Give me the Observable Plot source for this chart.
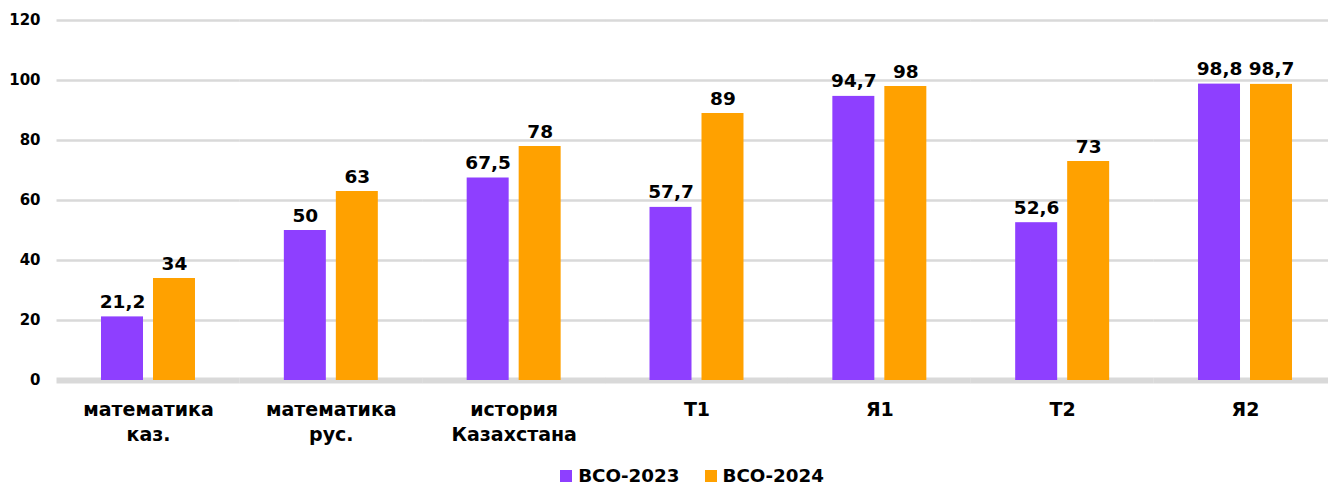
<!DOCTYPE html>
<html><head><meta charset="utf-8">
<script src="https://cdn.jsdelivr.net/npm/d3@7"></script>
<script src="https://cdn.jsdelivr.net/npm/@observablehq/plot@0.6"></script>
<style>
html,body{margin:0;background:#fff;font-family:"DejaVu Sans",Verdana,sans-serif;overflow:hidden;}
#legend{display:flex;justify-content:center;align-items:center;gap:25px;padding-left:56px;padding-top:6px;height:28px;font-weight:bold;font-size:18.3px;color:#000;}
#legend span.sw{display:inline-block;width:12px;height:12px;margin-right:6px;vertical-align:0px;}
</style></head><body>
<div id="chart"></div>
<div id="legend"></div>
<script>
const categories = ["математика\nказ.", "математика\nрус.", "история\nКазахстана", "Т1", "Я1", "Т2", "Я2"];
const series = ["ВСО-2023", "ВСО-2024"];
const values2023 = [21.2, 50, 67.5, 57.7, 94.7, 52.6, 98.8];
const values2024 = [34, 63, 78, 89, 98, 73, 98.7];
const colors = ["#8E3FFF", "#FFA100"];
const yTicks = [0, 20, 40, 60, 80, 100, 120];

const data = [];
categories.forEach((c, i) => {
  data.push({cat: c, s: series[0], v: values2023[i]});
  data.push({cat: c, s: series[1], v: values2024[i]});
});
const fmt = v => String(v).replace(".", ",");

const chart = Plot.plot({
  width: 1328, height: 455,
  marginLeft: 57, marginRight: -8, marginTop: 20, marginBottom: 75,
  style: {fontFamily: "'DejaVu Sans', Verdana, sans-serif", color: "#000", background: "#fff", fontSize: "14px"},
  fx: {domain: categories, paddingInner: 0.486, paddingOuter: 0.2407, round: false, label: null, axis: null},
  x: {domain: series, paddingInner: 0.1923, paddingOuter: 0, round: false, axis: null},
  y: {domain: [0, 120], label: null, axis: null},
  color: {domain: series, range: colors},
  marks: [
    Plot.ruleY(yTicks.filter(d => d > 0), {stroke: "#d9d9d9", strokeWidth: 2.5, insetLeft: -44.5, insetRight: -44.5}),
    Plot.ruleY([0], {stroke: "#d9d9d9", strokeWidth: 6, insetLeft: -44.5, insetRight: -44.5}),
    Plot.axisY(yTicks, {anchor: "left", tickSize: 0, tickPadding: 61, fontSize: 15, fontWeight: "bold", label: null}),
    Plot.axisFx({anchor: "bottom", tickSize: 0, tickPadding: 18, fontSize: 19, fontWeight: "bold", lineHeight: 1.32, label: null}),
    Plot.barY(data, {fx: "cat", x: "s", y: "v", fill: "s"}),
    Plot.text(data, {fx: "cat", x: "s", y: "v", text: d => fmt(d.v), lineAnchor: "bottom", dy: -9, fontSize: 18.5, fontWeight: "bold", fill: "#000"})
  ]
});
document.getElementById("chart").appendChild(chart);

const legend = document.getElementById("legend");
series.forEach((s, i) => {
  const item = document.createElement("div");
  item.innerHTML = `<span class="sw" style="background:${colors[i]}"></span>${s}`;
  legend.appendChild(item);
});
</script>
</body></html>
